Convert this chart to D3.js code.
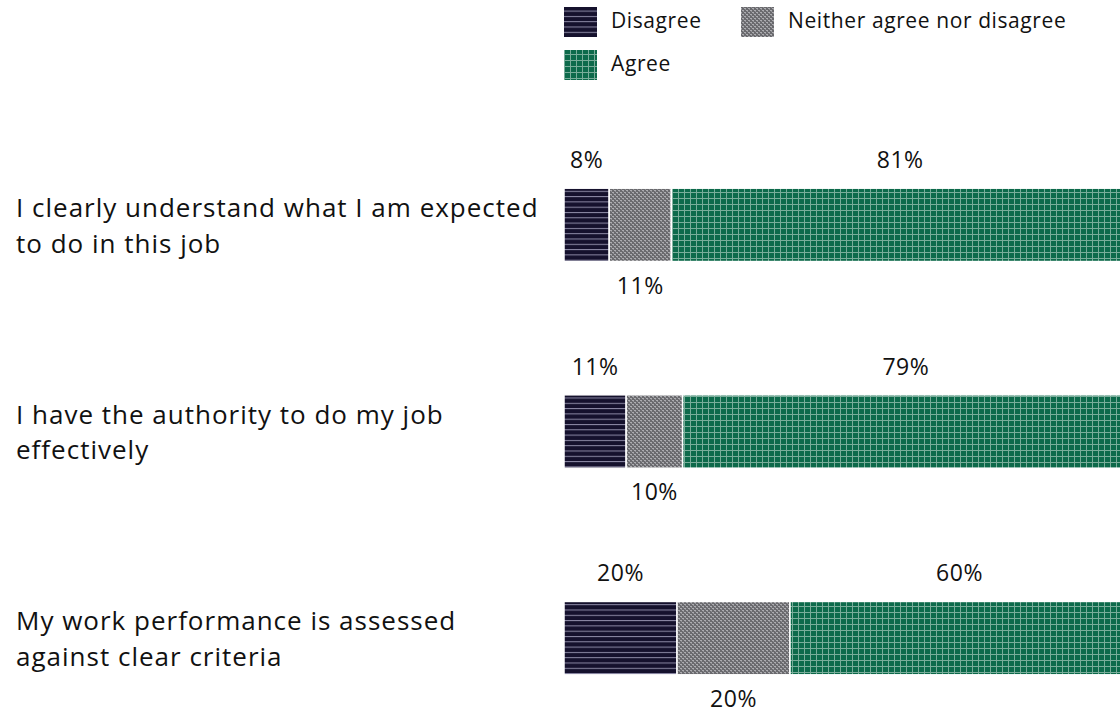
<!DOCTYPE html>
<html><head><meta charset="utf-8">
<script src="https://cdn.jsdelivr.net/npm/d3@7"></script>
<style>body{margin:0;background:#fff;overflow:hidden}</style>
</head><body>
<svg id="chart" width="1120" height="713"></svg>
<script>
const categories = [
  ["I clearly understand what I am expected", "to do in this job"],
  ["I have the authority to do my job", "effectively"],
  ["My work performance is assessed", "against clear criteria"]
];
const seriesNames = ["Disagree", "Neither agree nor disagree", "Agree"];
const disagree = [8, 11, 20];
const neither = [11, 10, 20];
const agree = [81, 79, 60];

const svg = d3.select("#chart");
const font = "'Open Sans', sans-serif";
const defs = svg.append("defs");

// patterns
const p1 = defs.append("pattern").attr("id","pDis").attr("patternUnits","userSpaceOnUse").attr("width",6).attr("height",5.3);
p1.append("rect").attr("width",6).attr("height",5.3).attr("fill","#15112d");
p1.append("rect").attr("y",0).attr("width",6).attr("height",1).attr("fill","#8d8aa6");

const p2 = defs.append("pattern").attr("id","pNei").attr("patternUnits","userSpaceOnUse").attr("width",4).attr("height",4);
p2.append("rect").attr("width",4).attr("height",4).attr("fill","#6a6a6e");
p2.append("rect").attr("x",0).attr("y",0).attr("width",2).attr("height",1).attr("fill","#acacb0");
p2.append("rect").attr("x",2).attr("y",2).attr("width",2).attr("height",1).attr("fill","#acacb0");
p2.append("rect").attr("x",1).attr("y",1).attr("width",1).attr("height",1).attr("fill","#909094");
p2.append("rect").attr("x",3).attr("y",3).attr("width",1).attr("height",1).attr("fill","#909094");

const p3 = defs.append("pattern").attr("id","pAgr").attr("patternUnits","userSpaceOnUse").attr("width",6).attr("height",6);
p3.append("rect").attr("width",6).attr("height",6).attr("fill","#0d6a4b");
p3.append("rect").attr("x",0).attr("width",1).attr("height",6).attr("fill","#79ad9a");
p3.append("rect").attr("y",0).attr("width",6).attr("height",1).attr("fill","#79ad9a");

const fills = ["url(#pDis)","url(#pNei)","url(#pAgr)"];

const x = d3.scaleLinear().domain([0,100]).range([564,1129]);
const y = d3.scaleBand().domain(d3.range(categories.length)).range([120,743]).paddingInner(0.645).paddingOuter(0.33);

const rows = categories.map((c,i)=>({cat:c, vals:[disagree[i],neither[i],agree[i]]}));

rows.forEach((r,i)=>{
  const g = svg.append("g");
  const yy = y(i), h = y.bandwidth();
  let acc = 0;
  r.vals.forEach((v,k)=>{
    const x0 = x(acc), x1 = x(acc+v);
    g.append("rect").attr("x",x0).attr("y",yy).attr("width",x1-x0).attr("height",h)
      .attr("fill",fills[k]).attr("stroke","#fff").attr("stroke-width",1.5);
    const cx = (x0+x1)/2;
    const ly = k===1 ? yy + h + 32 : yy - 20;
    g.append("text").attr("x",cx).attr("y",ly).attr("text-anchor","middle")
      .attr("font-family",font).attr("font-size",23).attr("letter-spacing",0.5)
      .attr("fill","#111").text(v+"%");
    acc += v;
  });
  const t = g.append("text").attr("font-family",font).attr("font-size",26)
    .attr("letter-spacing",1.0).attr("fill","#111");
  r.cat.forEach((line,j)=>{
    t.append("tspan").attr("x",16).attr("y",yy + 29 + j*35.5).text(line);
  });
});

// legend
const leg = [
  {name:seriesNames[0], fill:fills[0], x:564, y:7},
  {name:seriesNames[1], fill:fills[1], x:741, y:7},
  {name:seriesNames[2], fill:fills[2], x:564, y:50}
];
leg.forEach(l=>{
  svg.append("rect").attr("x",l.x).attr("y",l.y).attr("width",33).attr("height",30).attr("fill",l.fill);
  svg.append("text").attr("x",l.x+47).attr("y",l.y+21).attr("font-family",font).attr("font-size",21)
    .attr("letter-spacing",0.6).attr("fill","#111").text(l.name);
});
</script>
</body></html>
